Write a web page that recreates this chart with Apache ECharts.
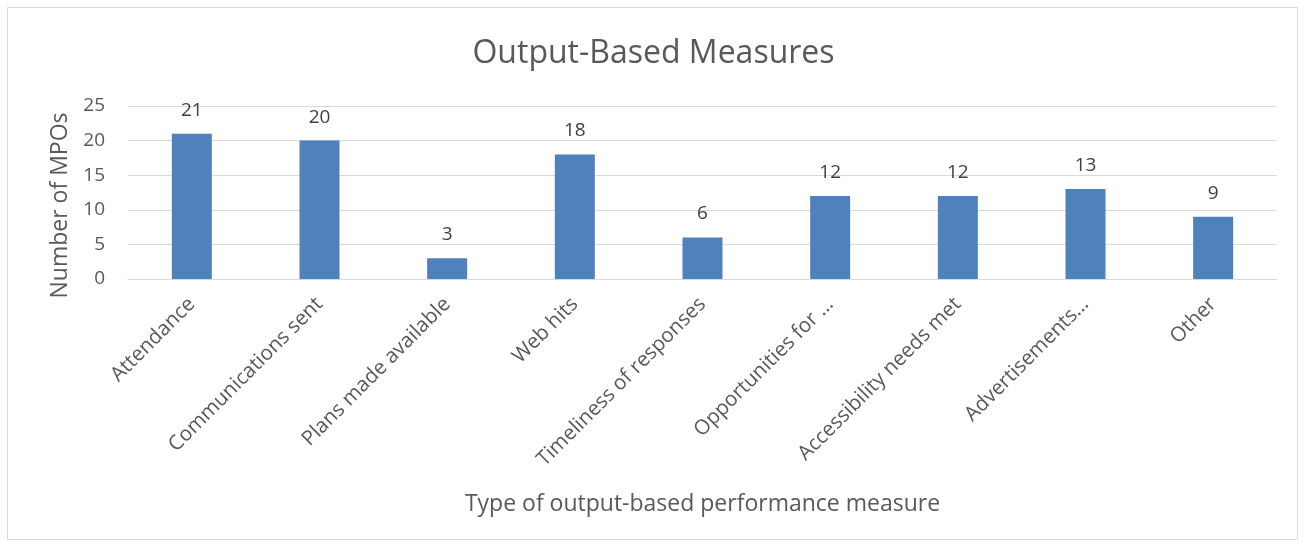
<!DOCTYPE html>
<html>
<head>
<meta charset="utf-8">
<script src="https://cdn.jsdelivr.net/npm/echarts@6/dist/echarts.min.js"></script>
<style>
  html, body { margin: 0; padding: 0; background: #fff; }
  #chart { width: 1307px; height: 548px; }
</style>
</head>
<body>
<div id="chart"></div>
<script>
// data
var categories = ['Attendance', 'Communications sent', 'Plans made available', 'Web hits',
  'Timeliness of responses', 'Opportunities for …', 'Accessibility needs met',
  'Advertisements…', 'Other'];
var counts = [21, 20, 3, 18, 6, 12, 12, 13, 9];
var yTicks = [0, 5, 10, 15, 20, 25];

var font = 'Open Sans';
var myChart = echarts.init(document.getElementById('chart'));

myChart.setOption({
  animation: false,
  textStyle: { fontFamily: font },
  title: {
    text: 'Output-Based Measures',
    left: 'center',
    top: 33,
    textStyle: { fontFamily: font, fontSize: 32, fontWeight: 'normal', color: '#595959' }
  },
  graphic: [{
    type: 'rect',
    shape: { x: 7.5, y: 7.5, width: 1290, height: 532 },
    style: { fill: 'none', stroke: '#d9d9d9', lineWidth: 1 },
    silent: true
  }],
  grid: { left: 128, right: 30, top: 106, bottom: 269 },
  xAxis: {
    type: 'category',
    data: categories,
    name: 'Type of output-based performance measure',
    nameLocation: 'middle',
    nameGap: 214,
    nameTextStyle: { fontFamily: font, fontSize: 23, color: '#595959' },
    axisLine: { lineStyle: { color: '#d9d9d9', width: 1 } },
    axisTick: { show: false },
    axisLabel: {
      rotate: 45,
      interval: 0,
      margin: 22,
      fontFamily: font,
      fontSize: 20.5,
      color: '#595959'
    }
  },
  yAxis: {
    type: 'value',
    min: yTicks[0],
    max: yTicks[yTicks.length - 1],
    interval: 5,
    name: 'Number of MPOs',
    nameLocation: 'middle',
    nameGap: 53,
    nameTextStyle: { fontFamily: font, fontSize: 23, color: '#595959', padding: [0, 26, 0, 0] },
    axisLine: { show: false },
    axisTick: { show: false },
    splitLine: { lineStyle: { color: '#d9d9d9', width: 1 } },
    axisLabel: { fontFamily: font, fontSize: 19, color: '#595959', margin: 23 }
  },
  series: [{
    type: 'bar',
    data: counts,
    barWidth: 40,
    itemStyle: { color: '#4f81bd' },
    label: {
      show: true,
      position: 'top',
      distance: 14,
      fontFamily: font,
      fontSize: 19,
      color: '#404040'
    }
  }]
});
</script>
</body>
</html>
